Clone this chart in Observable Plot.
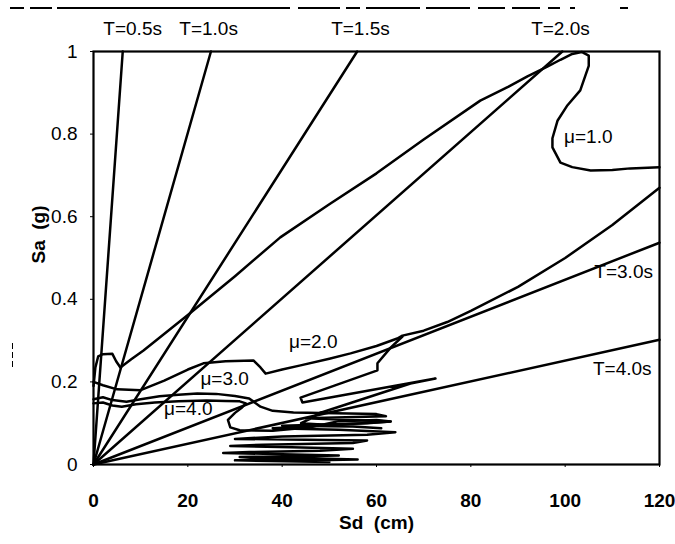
<!DOCTYPE html>
<html><head><meta charset="utf-8">
<script src="https://cdn.jsdelivr.net/npm/d3@7"></script>
<script src="https://cdn.jsdelivr.net/npm/@observablehq/plot@0.6"></script>
<style>
body{margin:0;background:#fff;}
#wrap{position:relative;width:675px;height:544px;}
.scan{position:absolute;background:#000;}
</style></head><body><div id="wrap"></div>
<script>
// Period (T) radial lines: end points
const periods = ["T=0.5s","T=1.0s","T=1.5s","T=2.0s","T=3.0s","T=4.0s"];
const periodEndSd = [6.2, 24.9, 55.9, 99.4, 120, 120];
const periodEndSa = [1, 1, 1, 1, 0.537, 0.302];
const periodLabelSd = [8.3, 24.4, 56.6, 99.0, 112.4, 112.1];
const periodLabelSa = [1.054, 1.054, 1.054, 1.054, 0.466, 0.2325];

// Ductility labels
const muLabels = ["μ=1.0","μ=2.0","μ=3.0","μ=4.0"];
const muLabelSd = [104.9, 46.6, 27.8, 20.1];
const muLabelSa = [0.794, 0.298, 0.207, 0.134];

// Constant-ductility spectra [Sd (cm), Sa (g)]
const mu1 = [[0,0.19],[0.4,0.235],[1,0.262],[2,0.267],[4,0.268],[4.8,0.25],[5.7,0.235],[8,0.255],[10.6,0.276],[20,0.362],[30,0.456],[39.6,0.55],[50,0.63],[60,0.705],[70,0.787],[82,0.881],[88,0.915],[92,0.94],[96,0.962],[99,0.98],[101.5,0.994],[103.5,0.999],[105,0.99],[105,0.965],[103.2,0.906],[100.5,0.87],[98.4,0.833],[97.3,0.79],[97.3,0.768],[99,0.731],[101.5,0.72],[105.4,0.712],[110,0.713],[113.8,0.717],[120,0.72]];
const mu2 = [[0,0.2],[2,0.192],[5,0.182],[10,0.18],[15,0.203],[20,0.23],[23.3,0.245],[28,0.25],[33.9,0.252],[35.4,0.235],[36.5,0.22],[40,0.23],[43.9,0.24],[50,0.256],[54.5,0.269],[60,0.287],[64.4,0.305],[65.5,0.312],[70,0.324],[75,0.345],[80,0.372],[90,0.43],[100,0.5],[110,0.58],[120,0.67]];
const mu3 = [[0,0.158],[2,0.163],[4,0.156],[7,0.152],[10,0.158],[14,0.165],[18,0.169],[22,0.172],[26,0.171],[30,0.166],[33,0.16],[35.4,0.14],[38,0.13],[42.4,0.126],[60,0.122],[62,0.117],[45,0.112],[63,0.104],[58,0.1],[40,0.094],[55,0.092],[61,0.088],[44,0.1],[46.6,0.114],[47.5,0.123],[67.2,0.196],[72.5,0.208],[44.3,0.15],[43.9,0.162],[60.2,0.228],[60.2,0.245],[63,0.283],[65.5,0.31]];
const mu4 = [[0,0.148],[2,0.15],[4,0.143],[6,0.14],[9,0.146],[13,0.15],[18,0.153],[24,0.155],[28,0.154],[31,0.153],[32.3,0.148],[31.5,0.138],[30,0.125],[28.5,0.108],[29,0.09],[31,0.083],[38,0.082],[46,0.09],[52,0.105],[60,0.108],[63,0.104],[50,0.095],[38,0.088],[52,0.084],[64,0.078],[58,0.072],[40,0.068],[30,0.062],[45,0.06],[58,0.058],[55,0.052],[36,0.048],[29,0.045],[42,0.042],[55,0.038],[48,0.033],[33,0.03],[27.5,0.028],[40,0.025],[52,0.022],[44,0.02],[31,0.018],[34,0.016],[45,0.015],[56,0.012],[47,0.01],[36,0.013],[30,0.01],[50,0.006]];

const xTicks = [0,20,40,60,80,100,120];
const yTicks = [0,0.2,0.4,0.6,0.8,1];
const yTickText = ["0","0.2","0.4","0.6","0.8","1"];

// build tables
const periodRows = periods.flatMap((p,i)=>[{z:p,Sd:0,Sa:0},{z:p,Sd:periodEndSd[i],Sa:periodEndSa[i]}]);
const curveRows = [["mu1",mu1],["mu2",mu2],["mu3",mu3],["mu4",mu4]]
  .flatMap(([z,arr])=>arr.map(([Sd,Sa])=>({z,Sd,Sa})));
const tLab = periods.map((t,i)=>({t,Sd:periodLabelSd[i],Sa:periodLabelSa[i]}));
const mLab = muLabels.map((t,i)=>({t,Sd:muLabelSd[i],Sa:muLabelSa[i]}));

const FONT = "'Liberation Sans', Arial, Helvetica, sans-serif";
const chart = Plot.plot({
  width: 675, height: 544,
  marginLeft: 93, marginRight: 16, marginTop: 51, marginBottom: 80,
  style: {fontFamily: FONT, background: "#fff", color: "#000"},
  x: {domain: [0,120]},
  y: {domain: [0,1]},
  marks: [
    Plot.axisX({ticks: xTicks, tickSize: 3, tickPadding: 26, fontSize: 19, fontWeight: "bold", label: null, stroke: "#000"}),
    Plot.axisY({ticks: yTicks, tickFormat: (d)=>yTickText[yTicks.indexOf(d)], tickSize: 3, tickPadding: 13, fontSize: 19, label: null, stroke: "#000"}),
    Plot.line(periodRows, {x:"Sd", y:"Sa", z:"z", stroke:"#000", strokeWidth: 2.5}),
    Plot.line(curveRows, {x:"Sd", y:"Sa", z:"z", stroke:"#000", strokeWidth: 2.5, strokeLinejoin:"round"}),
    Plot.frame({stroke:"#000", strokeWidth: 2.2}),
    Plot.text(tLab, {x:"Sd", y:"Sa", text:"t", fontSize: 19, fill:"#000"}),
    Plot.text(mLab, {x:"Sd", y:"Sa", text:"t", fontSize: 19, fill:"#000"}),
    Plot.text(["Sa\u00a0\u00a0(g)"], {frameAnchor:"left", dx:-55, dy:5.5, rotate:-90, fontSize:19, fontWeight:"bold", fill:"#000"}),
    Plot.text(["Sd\u00a0\u00a0(cm)"], {frameAnchor:"bottom", dy:64, fontSize:19, fontWeight:"bold", fill:"#000"})
  ]
});
const wrap = document.getElementById("wrap");
wrap.appendChild(chart);
// scan artifacts (decorative)
[[10,24],[30,52],[57,290],[298,340],[346,360],[366,420],[426,470],[478,505],[512,540],[548,560],[570,575],[620,628]].forEach(([a,b])=>{
  const d=document.createElement("div"); d.className="scan";
  d.style.cssText=`left:${a}px;top:7px;width:${b-a}px;height:2px;`; wrap.appendChild(d);
});
[[343,349],[352,358],[361,367]].forEach(([a,b])=>{
  const d=document.createElement("div"); d.className="scan";
  d.style.cssText=`left:12px;top:${a}px;width:1px;height:${b-a}px;`; wrap.appendChild(d);
});
</script></body></html>
